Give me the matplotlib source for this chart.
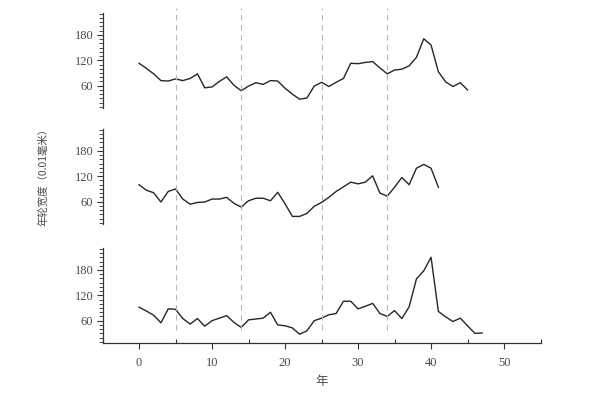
import numpy as np
import matplotlib
matplotlib.use("Agg")
import matplotlib.pyplot as plt
from matplotlib.ticker import MultipleLocator

# ─────────────────────────────────────────────
# DATOS
# ─────────────────────────────────────────────
top_vals = [113, 101, 88, 72, 71, 76, 72, 77, 88, 55, 57, 70, 81, 61, 48, 59,
            67, 63, 72, 71, 54, 40, 28, 31, 59, 68, 58, 68, 77, 113, 112, 115,
            117, 102, 88, 97, 99, 107, 127, 171, 156, 93, 69, 58, 67, 50]
mid_vals = [100, 87, 81, 59, 84, 90, 66, 54, 58, 59, 66, 66, 70, 56, 47, 62,
            68, 68, 62, 82, 55, 25, 25, 32, 49, 58, 70, 84, 95, 106, 102, 106,
            121, 80, 73, 94, 117, 100, 139, 148, 139, 94]
bot_vals = [92, 83, 73, 55, 88, 87, 65, 52, 65, 47, 60, 66, 72, 56, 44, 62,
            64, 66, 80, 50, 48, 43, 28, 36, 60, 66, 74, 77, 106, 106, 88, 94,
            101, 77, 70, 84, 65, 93, 159, 178, 210, 82, 69, 58, 66, 48, 30, 31]
series = [top_vals, mid_vals, bot_vals]

marker_years = [5, 14, 25, 34]
y_ticks = [60, 120, 180]
x_ticks = [0, 10, 20, 30, 40, 50]

YLABEL = "年轮宽度（0.01毫米）"
XLABEL = "年"

TXT = "#4a4a4a"
LINE = "#262626"

# posiciones de los paneles (fracción de figura)
LEFT, WIDTH = 0.172, 0.735
BOTTOMS = [0.725, 0.430, 0.127]
HEIGHT = 0.242

fig = plt.figure(figsize=(5.96, 3.93), dpi=100)
fig.patch.set_facecolor("white")

for i, vals in enumerate(series):
    ax = fig.add_axes([LEFT, BOTTOMS[i], WIDTH, HEIGHT])
    ax.plot(np.arange(len(vals)), vals, color=LINE, linewidth=1.0)
    ax.set_xlim(-5, 55)
    ax.set_ylim(7, 232)
    ax.set_facecolor("none")

    for s in ["top", "right"]:
        ax.spines[s].set_visible(False)
    ax.spines["left"].set_color("#333333")
    ax.spines["left"].set_linewidth(0.9)

    ax.set_yticks(y_ticks)
    ax.yaxis.set_minor_locator(MultipleLocator(10))
    ax.tick_params(axis="y", which="major", direction="out", length=4.5,
                   width=0.8, color="#333333", labelsize=9, labelcolor=TXT, pad=2)
    ax.tick_params(axis="y", which="minor", direction="out", length=3,
                   width=0.6, color="#333333")
    for lab in ax.get_yticklabels():
        lab.set_family("Liberation Serif")

    if i < 2:
        ax.spines["bottom"].set_visible(False)
        ax.set_xticks([])
    else:
        ax.spines["bottom"].set_color("#333333")
        ax.spines["bottom"].set_linewidth(0.9)
        ax.set_xticks(x_ticks)
        ax.xaxis.set_minor_locator(MultipleLocator(5))
        ax.tick_params(axis="x", which="major", direction="out", length=4,
                       width=0.8, color="#333333", labelsize=9,
                       labelcolor=TXT, pad=6)
        ax.tick_params(axis="x", which="minor", direction="in", length=3,
                       width=0.8, color="#333333")
        for lab in ax.get_xticklabels():
            lab.set_family("Liberation Serif")
        ax.set_xlabel(XLABEL, family=["Noto Sans CJK SC", "DejaVu Sans"],
                      fontsize=9, color=TXT, labelpad=4)

# líneas discontinuas que cruzan los tres paneles
over = fig.add_axes([LEFT, BOTTOMS[2], WIDTH, 0.98 - BOTTOMS[2]])
over.set_xlim(-5, 55)
over.set_ylim(0, 1)
over.axis("off")
for yr in marker_years:
    over.axvline(yr, ymin=0.04, ymax=1.0, color="#b8b8b8",
                 linewidth=0.8, linestyle=(0, (5, 4)))

fig.text(0.072, 0.557, YLABEL, rotation=90, ha="center", va="center",
         fontsize=7.5, color=TXT, family=["Noto Sans CJK SC", "DejaVu Sans"])

plt.savefig("out.png", dpi=100, facecolor=fig.get_facecolor())
